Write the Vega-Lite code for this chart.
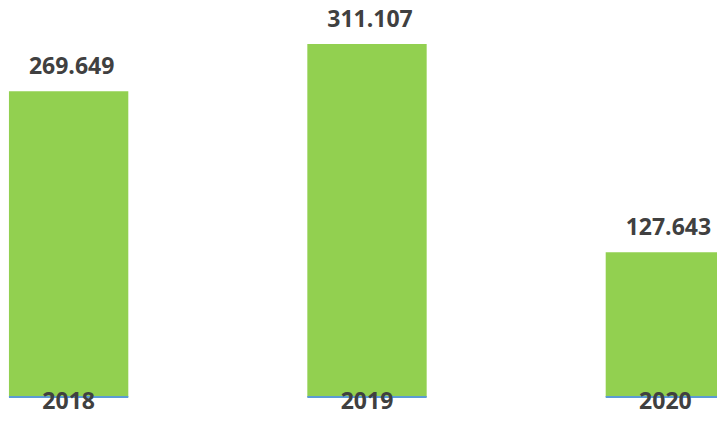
{
  "$schema": "https://vega.github.io/schema/vega-lite/v6.json",
  "autosize": "none",
  "padding": {"left": 0, "top": 0, "right": 0, "bottom": 24},
  "width": 734,
  "height": 397,
  "background": "white",
  "config": {"view": {"stroke": null}},
  "data": {"values": [
    {"year": "2018", "value": 269.649, "label": "269.649"},
    {"year": "2019", "value": 311.107, "label": "311.107"},
    {"year": "2020", "value": 127.643, "label": "127.643"}
  ]},
  "encoding": {
    "x": {"field": "year", "type": "nominal", "sort": null,
          "scale": {"paddingInner": 0.6, "paddingOuter": 0.03},
          "axis": null}
  },
  "layer": [
    {
      "mark": {"type": "bar", "color": "#92D050"},
      "encoding": {
        "y": {"field": "value", "type": "quantitative", "scale": {"domain": [0, 350], "nice": false}, "axis": null}
      }
    },
    {
      "mark": {"type": "bar", "fill": null, "stroke": "#5B9BD5", "strokeWidth": 2},
      "encoding": {
        "y": {"datum": 0, "type": "quantitative"},
        "y2": {"datum": 0}
      }
    },
    {
      "mark": {"type": "text", "font": "Open Sans", "fontWeight": "bold", "fontSize": 23, "color": "#404040", "baseline": "alphabetic", "dy": -17, "dx": 3},
      "encoding": {
        "y": {"field": "value", "type": "quantitative"},
        "text": {"field": "label"}
      }
    },
    {
      "mark": {"type": "text", "font": "Open Sans", "fontWeight": "bold", "fontSize": 23, "color": "#404040", "baseline": "alphabetic", "dy": 12, "clip": false},
      "encoding": {
        "y": {"datum": 0, "type": "quantitative"},
        "text": {"field": "year"}
      }
    }
  ]
}
